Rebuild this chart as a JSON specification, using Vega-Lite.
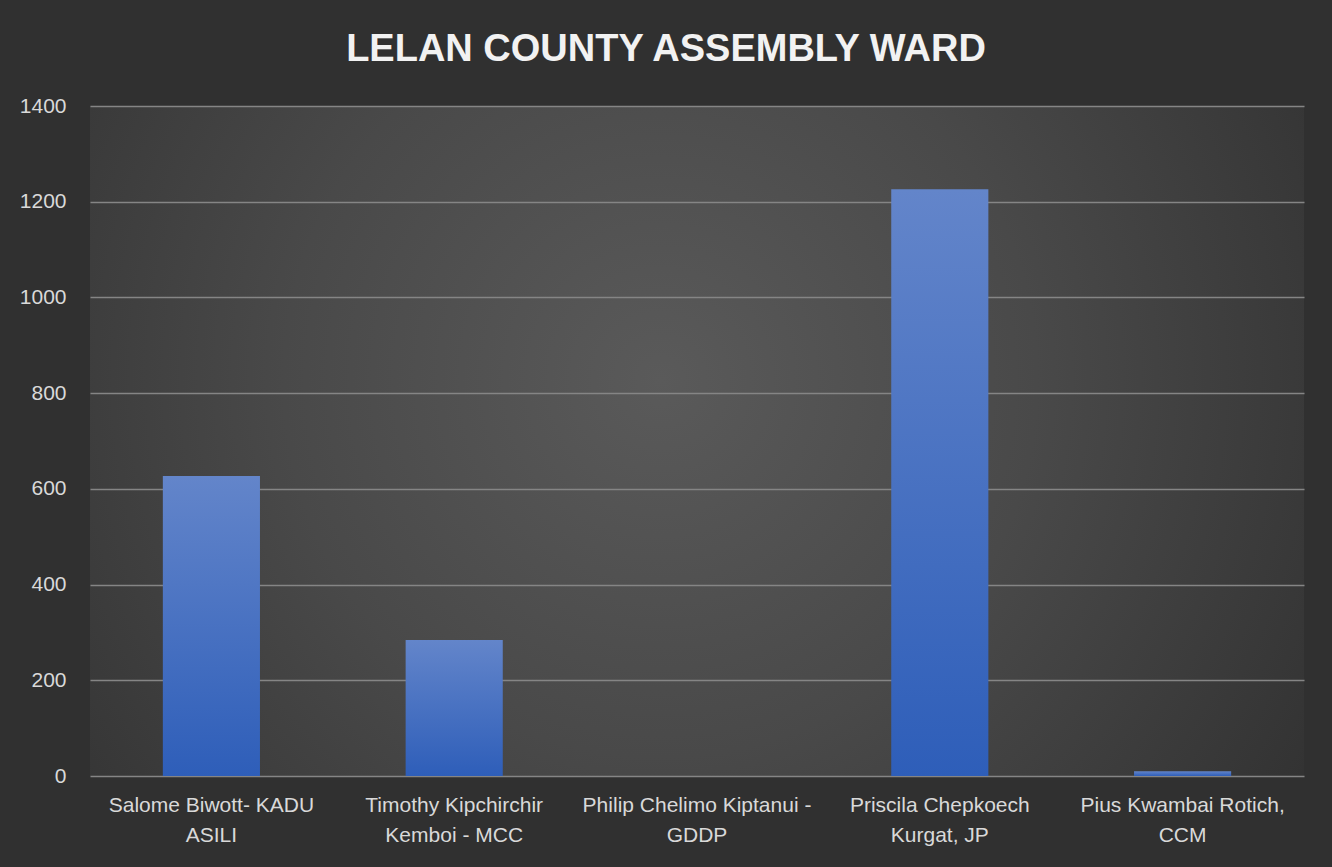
{
  "$schema": "https://vega.github.io/schema/vega-lite/v6.json",
  "autosize": {"type": "none"},
  "padding": {"left": 90, "top": 106, "right": 28, "bottom": 91},
  "width": 1214,
  "height": 670,
  "background": "#303030",
  "config": {
    "view": {
      "stroke": null,
      "fill": {
        "gradient": "radial",
        "x1": 0.47, "y1": 0.45, "r1": 0,
        "x2": 0.47, "y2": 0.45, "r2": 0.62,
        "stops": [
          {"offset": 0, "color": "#5a5a5a"},
          {"offset": 0.5, "color": "#494949"},
          {"offset": 1, "color": "#333333"}
        ]
      }
    },
    "font": "Liberation Sans"
  },
  "title": {
    "text": "LELAN COUNTY ASSEMBLY WARD",
    "font": "Liberation Sans",
    "fontSize": 38,
    "fontWeight": "bold",
    "color": "#f2f2f2",
    "anchor": "middle",
    "frame": "group",
    "baseline": "alphabetic",
    "offset": -4,
    "dx": -31
  },
  "data": {
    "values": [
      {"candidate": "Salome Biwott- KADU ASILI", "votes": 627},
      {"candidate": "Timothy Kipchirchir Kemboi - MCC", "votes": 284},
      {"candidate": "Philip Chelimo Kiptanui - GDDP", "votes": 0},
      {"candidate": "Priscila Chepkoech Kurgat, JP", "votes": 1226},
      {"candidate": "Pius Kwambai Rotich, CCM", "votes": 10}
    ]
  },
  "mark": {
    "type": "bar",
    "fill": {
      "gradient": "linear",
      "x1": 0, "y1": 0, "x2": 0, "y2": 1,
      "stops": [
        {"offset": 0, "color": "#6385ca"},
        {"offset": 1, "color": "#2e5eb9"}
      ]
    }
  },
  "encoding": {
    "x": {
      "field": "candidate",
      "type": "nominal",
      "sort": null,
      "scale": {"paddingInner": 0.6, "paddingOuter": 0.3},
      "axis": {
        "title": null,
        "labelAngle": 0,
        "domain": false,
        "ticks": false,
        "labelColor": "#d9d9d9",
        "labelFontSize": 21,
        "labelFont": "Liberation Sans",
        "labelPadding": 18,
        "labelLineHeight": 30,
        "labelLimit": 400,
        "labelExpr": "[substring(datum.value, 0, lastindexof(substring(datum.value, 0, 26), ' ')), substring(datum.value, lastindexof(substring(datum.value, 0, 26), ' ') + 1)]"
      }
    },
    "y": {
      "field": "votes",
      "type": "quantitative",
      "scale": {"domain": [0, 1400]},
      "axis": {
        "title": null,
        "format": "d",
        "values": [0, 200, 400, 600, 800, 1000, 1200, 1400],
        "domain": false,
        "ticks": false,
        "labelColor": "#d9d9d9",
        "labelFontSize": 21,
        "labelFont": "Liberation Sans",
        "labelPadding": 24,
        "grid": true,
        "gridColor": "#858585",
        "gridWidth": 1.3,
        "gridOpacity": 1
      }
    }
  }
}
